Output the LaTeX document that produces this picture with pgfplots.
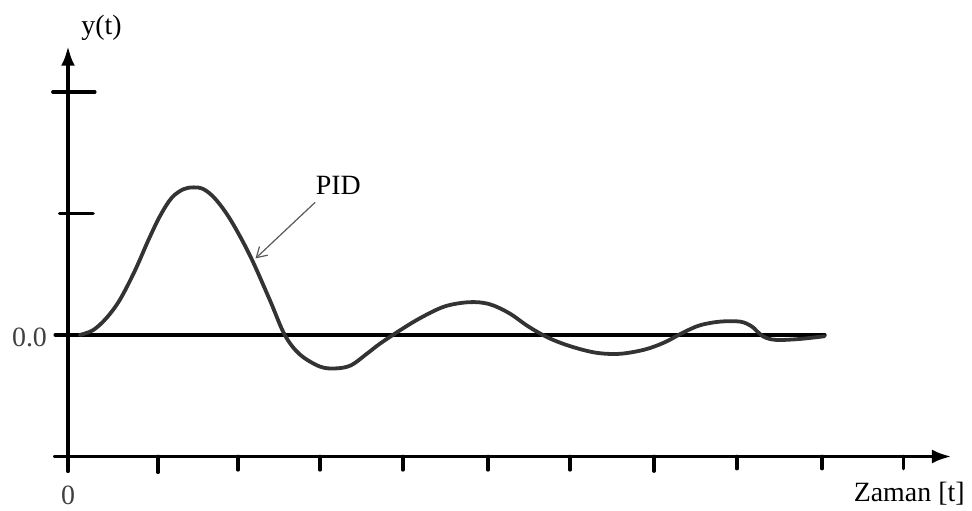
\documentclass[border=0pt]{standalone}
\usepackage{fontspec}
\setmainfont{Liberation Serif}
\usepackage{pgfplots}
\pgfplotsset{compat=1.18}
\usetikzlibrary{arrows.meta}
\begin{document}
\begin{tikzpicture}
\begin{axis}[
  width=486bp, height=255.5bp, scale only axis,
  xmin=-0.8124, xmax=10.8005, ymin=-1.4486, ymax=2.7572,
  hide axis, clip=false,
  unbounded coords=jump,
  every axis plot/.append style={line cap=round},
]
% invisible frame fixing the picture's extent
\addplot[draw=none, line width=0pt] coordinates {(-0.8124,-1.4486) (10.8005,2.7572)};
% y axis
\addplot[black, line width=2pt, -{Latex[length=10pt,width=7pt]}] coordinates {(0,-1.12) (0,2.38)};
% x axis
\addplot[black, line width=2pt, -{Latex[length=10pt,width=7pt]}] coordinates {(-0.155,-1) (10.56,-1)};
% zero line
\addplot[black, line width=2pt] coordinates {(-0.15,0) (9.04,0)};
% y ticks
\addplot[black, line width=1.8pt] coordinates {(-0.18,2) (0.32,2) (nan,nan) (-0.1,1) (0.3,1)};
% x ticks
\addplot[black, line width=1.8pt] coordinates {
 (1.075,-1) (1.075,-1.13) (nan,nan)
 (2.03,-1) (2.03,-1.11) (nan,nan)
 (3.01,-1) (3.01,-1.11) (nan,nan)
 (4.00,-1) (4.00,-1.11) (nan,nan)
 (5.02,-1) (5.02,-1.11) (nan,nan)
 (6.00,-1) (6.00,-1.11) (nan,nan)
 (7.00,-1) (7.00,-1.12) (nan,nan)
 (7.99,-1) (7.99,-1.10) (nan,nan)
 (9.01,-1) (9.01,-1.10) (nan,nan)
 (9.98,-1) (9.98,-1.10)};
% PID response
\addplot[color=black!80, line width=1.9pt, smooth, tension=0.55] coordinates {
 (0.14,0) (0.30,0.04) (0.46,0.14) (0.62,0.29) (0.80,0.53) (0.96,0.78) (1.10,0.98) (1.24,1.13)
 (1.38,1.20) (1.50,1.215) (1.62,1.20) (1.76,1.12) (1.94,0.95) (2.17,0.66) (2.41,0.29)
 (2.59,0) (2.77,-0.16) (3.01,-0.26) (3.20,-0.275) (3.38,-0.25) (3.56,-0.16) (3.73,-0.07)
 (3.97,0.04) (4.21,0.14) (4.50,0.235) (4.79,0.27) (5.03,0.255) (5.27,0.18)
 (5.50,0.07) (5.73,-0.02) (5.99,-0.09) (6.30,-0.145) (6.59,-0.155) (6.89,-0.12)
 (7.13,-0.06) (7.35,0.02) (7.55,0.08) (7.79,0.11) (8.03,0.11) (8.17,0.07)
 (8.30,-0.01) (8.45,-0.04) (8.70,-0.035) (8.92,-0.02) (9.04,-0.01)};
% annotation arrow
\addplot[color=black!65, line width=0.6pt, -{Straight Barb[length=5pt,width=6pt]}] coordinates {(2.95,1.09) (2.24,0.63)};
\begin{scope}[every node/.style={overlay, font=\fontsize{14}{16}\selectfont}]
\node at (axis cs:3.23,1.23) {PID};
\node at (axis cs:0.40,2.53) {y(t)};
\node[text=black!75] at (axis cs:-0.46,-0.02) {0.0};
\node[text=black!75] at (axis cs:0,-1.32) {0};
\node at (axis cs:10.05,-1.31) {Zaman [t]};
\end{scope}
\end{axis}
\end{tikzpicture}
\end{document}
